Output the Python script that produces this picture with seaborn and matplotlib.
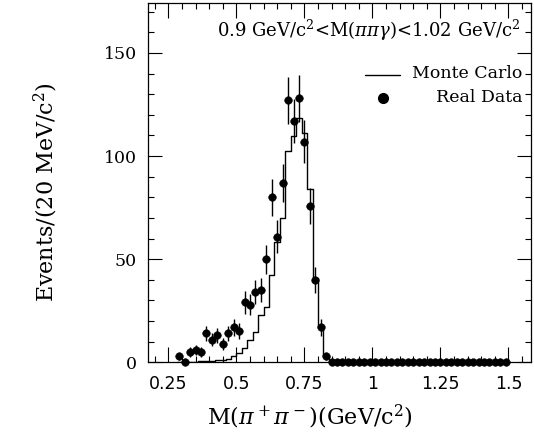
import numpy as np
import pandas as pd
import matplotlib
matplotlib.use("Agg")
import matplotlib.pyplot as plt
from matplotlib.ticker import MultipleLocator, FixedLocator, FixedFormatter
from matplotlib.lines import Line2D
import seaborn as sns

# M(pi+ pi-) binning: 20 MeV/c^2 bins starting at 0.28 GeV/c^2
bin_low = 0.28
bin_width = 0.02

# Observed events per bin
data_counts = [3, 0, 5, 6, 5, 14, 11, 13, 9, 14,
               17, 15, 29, 28, 34, 35, 50, 80, 61, 87,
               127, 117, 128, 107, 76, 40, 17, 3, 0, 0,
               0, 0, 0, 0, 0, 0, 0, 0, 0, 0,
               0, 0, 0, 0, 0, 0, 0, 0, 0, 0,
               0, 0, 0, 0, 0, 0, 0, 0, 0, 0,
               0]

# Monte Carlo expectation per bin
mc_counts = [0, 0, 0, 0.3, 0.4, 0.5, 0.6, 1, 1.2, 1.8,
             3, 4.7, 6.8, 10.8, 14.8, 22.9, 26.9, 42.3, 58.4, 69.8,
             102.7, 109.5, 118.5, 111, 84, 41, 17, 3, 0, 0,
             0, 0, 0, 0, 0, 0, 0, 0, 0, 0,
             0, 0, 0, 0, 0, 0, 0, 0, 0, 0,
             0, 0, 0, 0, 0, 0, 0, 0, 0, 0,
             0]

x_ticks = [0.25, 0.5, 0.75, 1.0, 1.25, 1.5]
x_tick_labels = ["0.25", "0.5", "0.75", "1", "1.25", "1.5"]
y_ticks = [0, 50, 100, 150]
y_tick_labels = ["0", "50", "100", "150"]

n_bins = len(data_counts)
edges = (bin_low + bin_width * np.arange(n_bins + 1)).round(4).tolist()
centers = [0.5 * (a + b) for a, b in zip(edges[:-1], edges[1:])]
df = pd.DataFrame({"mass": centers, "data": data_counts, "mc": mc_counts})
df["err"] = np.sqrt(df["data"])

sns.set_theme(style="ticks")
plt.rcParams["font.family"] = ["DejaVu Serif"]
plt.rcParams["mathtext.fontset"] = "dejavuserif"
for key in ("text.color", "axes.labelcolor", "xtick.color", "ytick.color",
            "axes.edgecolor"):
    plt.rcParams[key] = "black"

fig = plt.figure(figsize=(5.34, 4.40), dpi=100)
ax = fig.add_axes([0.2766, 0.1766, 0.7178, 0.8155])

# Monte Carlo histogram
sns.histplot(data=df, x="mass", weights="mc", bins=edges, element="step",
             fill=False, color="black", linewidth=1.0, ax=ax)

# Real data with Poisson error bars
ax.vlines(df["mass"], df["data"] - df["err"], df["data"] + df["err"],
          color="black", linewidth=1.0, zorder=3)
sns.scatterplot(data=df, x="mass", y="data", color="black", s=30,
                edgecolor="black", linewidth=0.4, ax=ax, zorder=4,
                legend=False, clip_on=False)

ax.set_xlim(0.174, 1.583)
ax.set_ylim(0, 174)

ax.xaxis.set_major_locator(FixedLocator(x_ticks))
ax.xaxis.set_major_formatter(FixedFormatter(x_tick_labels))
ax.xaxis.set_minor_locator(MultipleLocator(0.05))
ax.yaxis.set_major_locator(FixedLocator(y_ticks))
ax.yaxis.set_major_formatter(FixedFormatter(y_tick_labels))
ax.yaxis.set_minor_locator(MultipleLocator(10))

ax.tick_params(axis="both", which="both", direction="in", top=True, right=True,
               color="black", labelcolor="black", width=0.8)
ax.tick_params(axis="x", which="major", length=11, pad=9, labelsize=12.5)
ax.tick_params(axis="y", which="major", length=10, pad=8, labelsize=12.5)
ax.tick_params(axis="both", which="minor", length=4)
for lab in ax.get_xticklabels():
    lab.set_family("DejaVu Sans")

for sp in ax.spines.values():
    sp.set_linewidth(0.9)
    sp.set_color("black")

ax.set_xlabel(r"M($\pi^+\pi^-$)(GeV/c$^2$)", fontsize=16, color="black")
ax.set_ylabel(r"Events/(20 MeV/c$^2$)", fontsize=16, color="black")
ax.xaxis.set_label_coords(0.423, -0.112)
ax.yaxis.set_label_coords(-0.228, 0.475)

ax.text(0.972, 0.926, r"0.9 GeV/c$^2$<M($\pi\pi\gamma$)<1.02 GeV/c$^2$",
        transform=ax.transAxes, ha="right", va="center", fontsize=13,
        color="black")

# Legend drawn as keys and right-aligned labels
ax.add_line(Line2D([0.567, 0.658], [0.800, 0.800], transform=ax.transAxes,
                   color="black", linewidth=1.0))
ax.add_line(Line2D([0.615], [0.737], transform=ax.transAxes, marker="o",
                   markersize=7, color="black", linestyle="none"))
ax.text(0.9765, 0.805, "Monte Carlo", transform=ax.transAxes, ha="right",
        va="center", fontsize=12.5, color="black")
ax.text(0.9765, 0.737, "Real Data", transform=ax.transAxes, ha="right",
        va="center", fontsize=12.5, color="black")

fig.savefig("out.png", dpi=100)
